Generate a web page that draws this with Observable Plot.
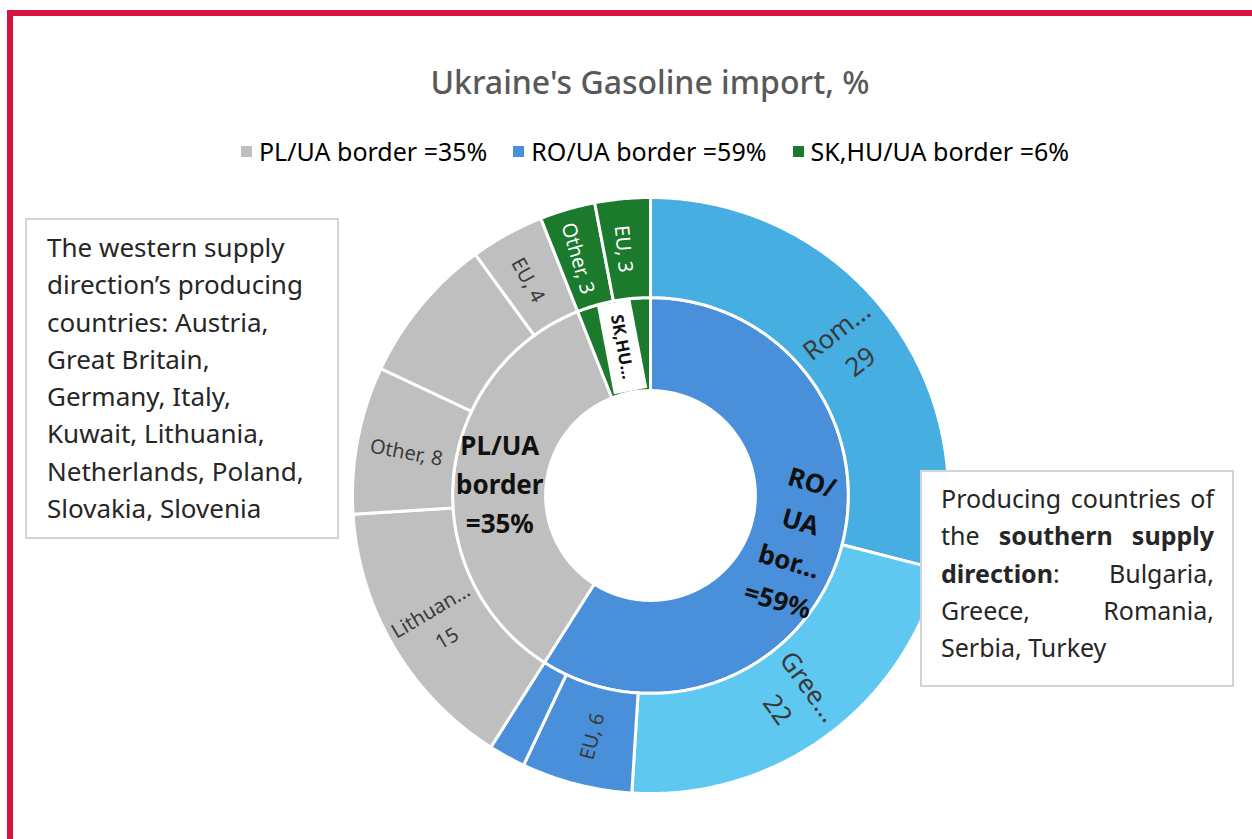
<!DOCTYPE html>
<html>
<head>
<meta charset="utf-8">
<script src="https://cdn.jsdelivr.net/npm/d3@7"></script>
<script src="https://cdn.jsdelivr.net/npm/@observablehq/plot@0.6"></script>
<style>
  html, body { margin: 0; padding: 0; background: #fff; }
  #page { position: relative; width: 1252px; height: 839px; overflow: hidden; background: #fff; font-family: "Noto Sans", "Open Sans", sans-serif; }
  #frame { position: absolute; left: 7px; top: 10px; width: 1260px; height: 900px; border-left: 6px solid #d7143f; border-top: 6px solid #d7143f; box-sizing: border-box; }
  #title { position: absolute; left: 0; width: 1300px; top: 60px; text-align: center; font-size: 32px; color: #595959; font-weight: 500; }
  #legend { position: absolute; left: 0; width: 1310px; top: 134px; display: flex; justify-content: center; }
  #legend .plot-swatches { color: #595959; font-family: "Noto Sans", sans-serif; white-space: pre; }
  #chart { position: absolute; left: 0; top: 0; }
  .box { position: absolute; background: #fff; border: 2px solid #d4d4d4; box-sizing: border-box; color: #262626; line-height: 37.3px; z-index: 2; }
  #leftBox { left: 25px; top: 218px; width: 314px; height: 321px; padding: 9px 26px 0 20px; font-size: 26px; }
  #rightBox { left: 920px; top: 470px; width: 314px; height: 217px; padding: 8px 18px 0 19px; text-align: justify; font-size: 25px; }
</style>
</head>
<body>
<div id="page">
  <div id="frame"></div>
  <div id="chart"></div>
  <div id="title"></div>
  <div id="legend"></div>
  <div class="box" id="leftBox"></div>
  <div class="box" id="rightBox"></div>
</div>
<script>
// ---------- data ----------
const titleText = "Ukraine's Gasoline import, %";

// inner ring (border crossings), clockwise from 12 o'clock
const innerNames  = ["RO/UA border", "PL/UA border", "SK,HU/UA border"];
const innerValues = [59, 35, 6];
const innerLabels = ["RO/\nUA\nbor...\n=59%", "PL/UA\nborder\n=35%", "SK,HU..."];

// outer ring (origin of supply), clockwise from 12 o'clock
const outerParents = ["RO/UA border", "RO/UA border", "RO/UA border", "RO/UA border",
                      "PL/UA border", "PL/UA border", "PL/UA border", "PL/UA border",
                      "SK,HU/UA border", "SK,HU/UA border"];
const outerNames   = ["Romania", "Greece", "EU", "Other", "Lithuania", "Other", "Rest", "EU", "Other", "EU"];
const outerValues  = [29, 22, 6, 2, 15, 8, 8, 4, 3, 3];
const outerLabels  = ["Rom...\n29", "Gree...\n22", "EU, 6", "", "Lithuan...\n15", "Other, 8", "", "EU, 4", "Other, 3", "EU, 3"];

// legend
const legendLabels = ["PL/UA border =35%", "RO/UA  border =59%", "SK,HU/UA border =6%"];

// notes
const leftNote  = "The western supply direction’s producing countries: Austria, Great Britain, Germany, Italy, Kuwait, Lithuania, Netherlands, Poland, Slovakia, Slovenia";
const rightNoteParts = ["Producing countries of the ", "southern supply direction", ": Bulgaria, Greece, Romania, Serbia, Turkey"];

// ---------- styles ----------
const innerColor = {"RO/UA border": "#4a8fd9", "PL/UA border": "#bfbfbf", "SK,HU/UA border": "#1b7a2c"};
const outerColor = {"Romania": "#46aee0", "Greece": "#5ec8f1"};
const legendColors = ["#bfbfbf", "#4a8fd9", "#1b7a2c"];
const radii = {hole: 0.352, mid: 0.664, outer: 1.0};

// ---------- geometry ----------
const total = d3.sum(innerValues);
function layout(values, r0, r1) {
  let acc = 0;
  return values.map((v, i) => {
    const a0 = acc / total * 2 * Math.PI; acc += v;
    const a1 = acc / total * 2 * Math.PI;
    return {i, v, a0, a1, r0, r1, am: (a0 + a1) / 2, rm: (r0 + r1) / 2};
  });
}
const innerSegs = layout(innerValues, radii.hole, radii.mid).map(s => ({...s, name: innerNames[s.i], color: innerColor[innerNames[s.i]], label: innerLabels[s.i]}));
const outerSegs = layout(outerValues, radii.mid, radii.outer).map(s => ({...s, name: outerNames[s.i], color: outerColor[outerNames[s.i]] || innerColor[outerParents[s.i]], label: outerLabels[s.i], parent: outerParents[s.i]}));

function ring(seg, id) {
  const pts = [];
  const n = Math.max(2, Math.ceil((seg.a1 - seg.a0) / (Math.PI / 360)));
  for (let k = 0; k <= n; k++) { const a = seg.a0 + (seg.a1 - seg.a0) * k / n; pts.push({id, color: seg.color, x: seg.r1 * Math.sin(a), y: seg.r1 * Math.cos(a)}); }
  for (let k = n; k >= 0; k--) { const a = seg.a0 + (seg.a1 - seg.a0) * k / n; pts.push({id, color: seg.color, x: seg.r0 * Math.sin(a), y: seg.r0 * Math.cos(a)}); }
  return pts;
}
const polys = [...innerSegs.map((s, i) => ring(s, "in" + i)), ...outerSegs.map((s, i) => ring(s, "out" + i))].flat();

function radialRotate(a) { let d = a * 180 / Math.PI - 90; if (d > 90) d -= 180; return d; }
const outerText = outerSegs.filter(s => s.label).map(s => ({
  x: s.rm * Math.sin(s.am), y: s.rm * Math.cos(s.am), text: s.label,
  rotate: radialRotate(s.am), fill: s.parent === "SK,HU/UA border" ? "#ffffff" : "#3a3a3a", big: s.v >= 20
}));
const innerText = innerSegs.map(s => ({
  x: s.rm * Math.sin(s.am), y: s.rm * Math.cos(s.am), text: s.label, name: s.name,
  rotate: s.name === "PL/UA border" ? 0 : radialRotate(s.am), small: s.v < 10
}));

// white label box for the small inner slice
const pxPerUnit = 298;
function labelBox(t, w, h) {
  const th = t.rotate * Math.PI / 180;
  const corners = [[-w/2, -h/2], [w/2, -h/2], [w/2, h/2], [-w/2, h/2]];
  return corners.map(([u, v]) => ({
    x: t.x + (u * Math.cos(th) - v * Math.sin(th)) / pxPerUnit,
    y: t.y - (u * Math.sin(th) + v * Math.cos(th)) / pxPerUnit
  }));
}
const boxPts = labelBox(innerText.find(t => t.small), 90, 34);

// ---------- chart ----------
const chart = Plot.plot({
  width: 1252, height: 839,
  marginLeft: 352, marginRight: 304, marginTop: 197, marginBottom: 46,
  x: {domain: [-1, 1], axis: null},
  y: {domain: [-1, 1], axis: null},
  color: {type: "identity"},
  style: {background: "transparent", fontFamily: "Noto Sans, sans-serif"},
  marks: [
    Plot.line(polys, {x: "x", y: "y", z: "id", fill: "color", stroke: "white", strokeWidth: 3, curve: "linear-closed", strokeLinejoin: "miter"}),
    Plot.line(boxPts, {x: "x", y: "y", fill: "white", stroke: "none", curve: "linear-closed"}),
    Plot.text(outerText.filter(d => d.big), {x: "x", y: "y", text: "text", rotate: "rotate", fill: "fill", fontSize: 26, lineHeight: 1.5}),
    Plot.text(outerText.filter(d => !d.big), {x: "x", y: "y", text: "text", rotate: "rotate", fill: "fill", fontSize: 20, lineHeight: 1.6}),
    Plot.text(innerText.filter(d => d.name === "PL/UA border"), {x: "x", y: "y", text: "text", rotate: "rotate", fill: "#111", fontSize: 26, fontWeight: "bold", lineHeight: 1.5}),
    Plot.text(innerText.filter(d => d.name === "RO/UA border"), {x: "x", y: "y", text: "text", rotate: "rotate", fill: "#111", fontSize: 26, fontWeight: "bold", lineHeight: 1.58}),
    Plot.text(innerText.filter(d => d.small), {x: "x", y: "y", text: "text", rotate: "rotate", fill: "#111", fontSize: 17, fontWeight: "bold"})
  ]
});
document.getElementById("chart").appendChild(chart);

// ---------- title / legend / notes ----------
document.getElementById("title").textContent = titleText;
const legend = Plot.legend({color: {type: "ordinal", domain: legendLabels, range: legendColors}, swatchSize: 11});
legend.style.fontSize = "25px";
legend.style.fontFamily = "Noto Sans, sans-serif";
document.getElementById("legend").appendChild(legend);
const spans = legend.querySelectorAll("span");
spans.forEach((el, i) => { el.style.marginRight = i === spans.length - 1 ? "0px" : "26px"; });
legend.querySelectorAll("svg").forEach(el => { el.style.marginRight = "7px"; });

document.getElementById("leftBox").textContent = leftNote;
const rb = document.getElementById("rightBox");
rb.append(rightNoteParts[0]);
const b = document.createElement("b"); b.textContent = rightNoteParts[1]; rb.append(b);
rb.append(rightNoteParts[2]);
</script>
</body>
</html>
